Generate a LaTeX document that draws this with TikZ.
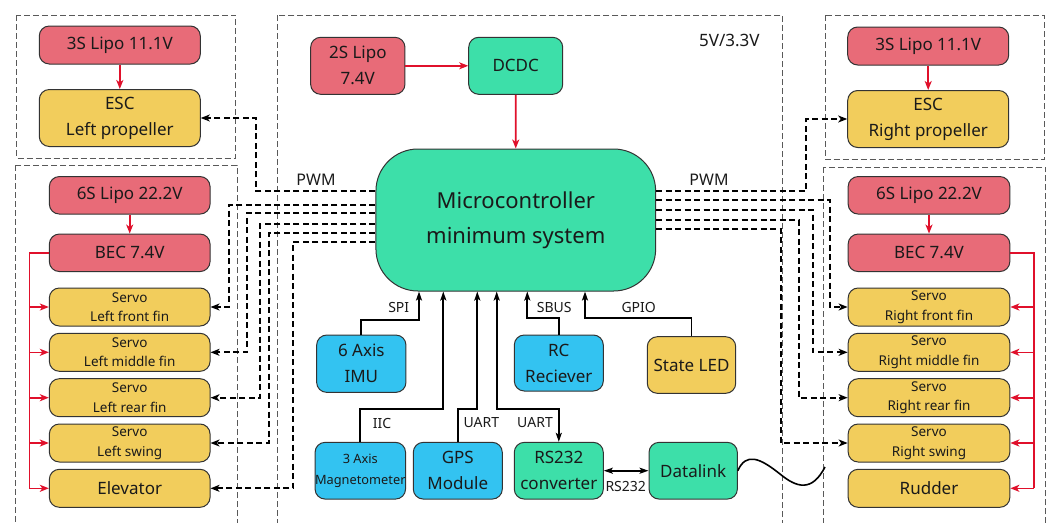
\documentclass[tikz,border=0pt]{standalone}
\usepackage{fontspec}
\setmainfont{Noto Sans}
\usetikzlibrary{arrows.meta}
\definecolor{cRed}{HTML}{E86B78}
\definecolor{cYel}{HTML}{F2CD5C}
\definecolor{cGrn}{HTML}{3DDFA9}
\definecolor{cBlu}{HTML}{33C3F1}
\definecolor{cArr}{HTML}{E0102B}
\definecolor{cTxt}{HTML}{1A1A1A}
\begin{document}
\begin{tikzpicture}[x=1pt,y=-1pt,
  box/.style={draw=black!80, line width=1pt, rounded corners=10pt, text=cTxt, align=center, inner sep=0pt},
  fz/.style={font=\fontsize{17}{26}\selectfont},
  fs/.style={font=\fontsize{13.5}{19.5}\selectfont},
  redb/.style={box, fill=cRed, fz},
  yelb/.style={box, fill=cYel},
  grnb/.style={box, fill=cGrn, fz},
  blub/.style={box, fill=cBlu, fz},
  grp/.style={draw=black!65, line width=1pt, dash pattern=on 6pt off 3pt},
  sig/.style={draw=black, line width=1.9pt, dash pattern=on 6pt off 3.5pt, -{Stealth[length=9pt,width=7pt,inset=2.5pt]}},
  pow/.style={draw=cArr, line width=1.6pt, -{Stealth[length=9pt,width=7pt,inset=2.5pt]}},
  powl/.style={draw=cArr, line width=1.6pt},
  bus/.style={draw=black, line width=1.8pt, -{Stealth[length=9pt,width=6pt,inset=2pt]}},
  bus2/.style={draw=black, line width=1.8pt, {Stealth[length=9pt,width=6pt,inset=2pt]}-{Stealth[length=9pt,width=6pt,inset=2pt]}},
  lbl/.style={text=cTxt, font=\fontsize{14}{16}\selectfont, inner sep=0pt}
]
\useasboundingbox (0,0) rectangle (1051,522);
\fill[white] (0,0) rectangle (1051,522);
\clip (0,0) rectangle (1051,522);

% group frames
\draw[grp] (16.7,15) rectangle (235.7,158);
\draw[grp] (15,165) rectangle (237,540);
\draw[grp] (277.3,15) rectangle (782.3,540);
\draw[grp] (825,15) rectangle (1044,159.3);
\draw[grp] (823.3,167) rectangle (1045.7,540);

% left nodes
\node[redb, minimum width=161pt, minimum height=38pt] (lipoL) at (119.8,45) {3S Lipo 11.1V};
\node[yelb, fz, minimum width=161pt, minimum height=57pt] (escL) at (119.8,118) {ESC\\Left propeller};
\node[redb, minimum width=160.7pt, minimum height=37.5pt] (lipo6L) at (129.7,195.3) {6S Lipo 22.2V};
\node[redb, minimum width=160.7pt, minimum height=37.5pt] (becL) at (129.7,252.8) {BEC 7.4V};
\node[yelb, fs, minimum width=160.7pt, minimum height=38pt] (sLF) at (129.7,307) {Servo\\Left front fin};
\node[yelb, fs, minimum width=160.7pt, minimum height=38pt] (sLM) at (129.7,352.3) {Servo\\Left middle fin};
\node[yelb, fs, minimum width=160.7pt, minimum height=38pt] (sLR) at (129.7,397.7) {Servo\\Left rear fin};
\node[yelb, fs, minimum width=160.7pt, minimum height=38pt] (sLS) at (129.7,443) {Servo\\Left swing};
\node[yelb, fz, minimum width=160.7pt, minimum height=38pt] (elev) at (129.7,488.3) {Elevator};

% right nodes
\node[redb, minimum width=161pt, minimum height=38pt] (lipoR) at (928.2,46) {3S Lipo 11.1V};
\node[yelb, fz, minimum width=161pt, minimum height=57pt] (escR) at (928.2,119) {ESC\\Right propeller};
\node[redb, minimum width=161.7pt, minimum height=37.5pt] (lipo6R) at (929,195.3) {6S Lipo 22.2V};
\node[redb, minimum width=161.7pt, minimum height=37.5pt] (becR) at (929,252.8) {BEC 7.4V};
\node[yelb, fs, minimum width=161.7pt, minimum height=38pt] (sRF) at (929,307) {Servo\\Right front fin};
\node[yelb, fs, minimum width=161.7pt, minimum height=38pt] (sRM) at (929,352.3) {Servo\\Right middle fin};
\node[yelb, fs, minimum width=161.7pt, minimum height=38pt] (sRR) at (929,397.7) {Servo\\Right rear fin};
\node[yelb, fs, minimum width=161.7pt, minimum height=38pt] (sRS) at (929,443) {Servo\\Right swing};
\node[yelb, fz, minimum width=161.7pt, minimum height=38pt] (rud) at (929,488.3) {Rudder};

% center nodes
\node[redb, minimum width=94.3pt, minimum height=57pt] (lipo2) at (357.8,65.8) {2S Lipo\\7.4V};
\node[grnb, minimum width=94pt, minimum height=57pt] (dcdc) at (515.7,65.8) {DCDC};
\node[box, fill=cGrn, rounded corners=42pt, minimum width=279.7pt, minimum height=142pt,
      font=\fontsize{22}{35}\selectfont] (mcu) at (515.8,220) {Microcontroller\\minimum system};
\node[lbl, font=\fontsize{17}{20}\selectfont] (vtxt) at (729.3,40) {5V/3.3V};

\node[blub, minimum width=89.3pt, minimum height=57.3pt] (imu) at (361.3,363.7) {6 Axis\\IMU};
\node[blub, minimum width=89pt, minimum height=56pt] (rc) at (558.8,363) {RC\\Reciever};
\node[yelb, fz, minimum width=88.4pt, minimum height=56.6pt] (led) at (691.5,365) {State LED};
\node[blub, font=\fontsize{12.8}{21}\selectfont, minimum width=89.3pt, minimum height=56.7pt] (mag) at (360.3,470.7) {3 Axis\\Magnetometer};
\node[blub, minimum width=89pt, minimum height=56.7pt] (gps) at (457.8,470.7) {GPS\\Module};
\node[grnb, minimum width=89pt, minimum height=56.7pt] (rs) at (558.8,470.7) {RS232\\converter};
\node[grnb, minimum width=88.3pt, minimum height=56.7pt] (dl) at (693.2,470.7) {Datalink};

% power arrows
\draw[pow] (lipoL) -- (escL);
\draw[pow] (lipoR) -- (escR);
\draw[pow] (lipo6L) -- (becL);
\draw[pow] (lipo6R) -- (becR);
\draw[pow] (lipo2) -- (dcdc);
\draw[pow] (dcdc) -- (mcu);

\draw[powl] (becL.west) -| (29.3,0 |- elev.west);
\foreach \n in {sLF,sLM,sLR,sLS,elev}{
  \draw[pow] (29.3,0 |- \n.west) -- (\n.west);
}
\draw[powl] (becR.east) -| (1034,0 |- rud.east);
\foreach \n in {sRF,sRM,sRR,sRS,rud}{
  \draw[pow] (1034,0 |- \n.east) -- (\n.east);
}

% PWM signal wires left
\draw[sig] ([yshift=29pt]mcu.west) -| (256,0 |- escL.east) -- (escL.east);
\draw[sig] ([yshift=15pt]mcu.west) -| (229,0 |- sLF.east) -- (sLF.east);
\draw[sig] ([yshift=7pt]mcu.west) -| (247,0 |- sLM.east) -- (sLM.east);
\draw[sig] ([yshift=-4pt]mcu.west) -| (260,0 |- sLR.east) -- (sLR.east);
\draw[sig] ([yshift=-13pt]mcu.west) -| (269,0 |- sLS.east) -- (sLS.east);
\draw[sig] ([yshift=-22pt]mcu.west) -| (293,0 |- elev.east) -- (elev.east);
% right
\draw[sig] ([yshift=29pt]mcu.east) -| (806,0 |- escR.west) -- (escR.west);
\draw[sig] ([yshift=20pt]mcu.east) -| (830,0 |- sRF.west) -- (sRF.west);
\draw[sig] ([yshift=10pt]mcu.east) -| (813,0 |- sRM.west) -- (sRM.west);
\draw[sig] ([yshift=0pt]mcu.east) -| (799,0 |- sRR.west) -- (sRR.west);
\draw[sig] ([yshift=-9pt]mcu.east) -| (781,0 |- sRS.west) -- (sRS.west);

\node[lbl, font=\fontsize{16}{18}\selectfont] (pwmL) at (316,180) {PWM};
\node[lbl, font=\fontsize{16}{18}\selectfont] (pwmR) at (709,180) {PWM};

% bus connections
\draw[bus] (imu.north) |- (419,320) -- (419,0 |- mcu.south);
\draw[bus] (mag.north) |- (443.3,409.3) -- (443.3,0 |- mcu.south);
\draw[bus] (gps.north) |- (477.3,409.3) -- (477.3,0 |- mcu.south);
\draw[bus2] (496.7,0 |- mcu.south) |- (rs.north |- 0,409.3) -- (rs.north);
\draw[bus] (rc.north) |- (527.3,318.3) -- (527.3,0 |- mcu.south);
\draw[bus] (led.north) |- (585,318.3) -- (585,0 |- mcu.south);
\draw[bus2] (rs.east) -- (dl.west);

\node[lbl] (spi) at (398.7,307) {SPI};
\node[lbl] (iic) at (382,423) {IIC};
\node[lbl] (u1) at (481.3,423) {UART};
\node[lbl] (u2) at (535,423) {UART};
\node[lbl] (sbus) at (554.3,307) {SBUS};
\node[lbl] (gpio) at (638.7,307) {GPIO};
\node[lbl] (rsl) at (625.7,486) {RS232};

% antenna squiggle
\coordinate (ant) at (825,467);
\draw[black, line width=1.6pt] (dl.east) .. controls (746,452) and (760,458) .. (780,474) .. controls (797,488) and (812,492) .. (ant);
\end{tikzpicture}
\end{document}
